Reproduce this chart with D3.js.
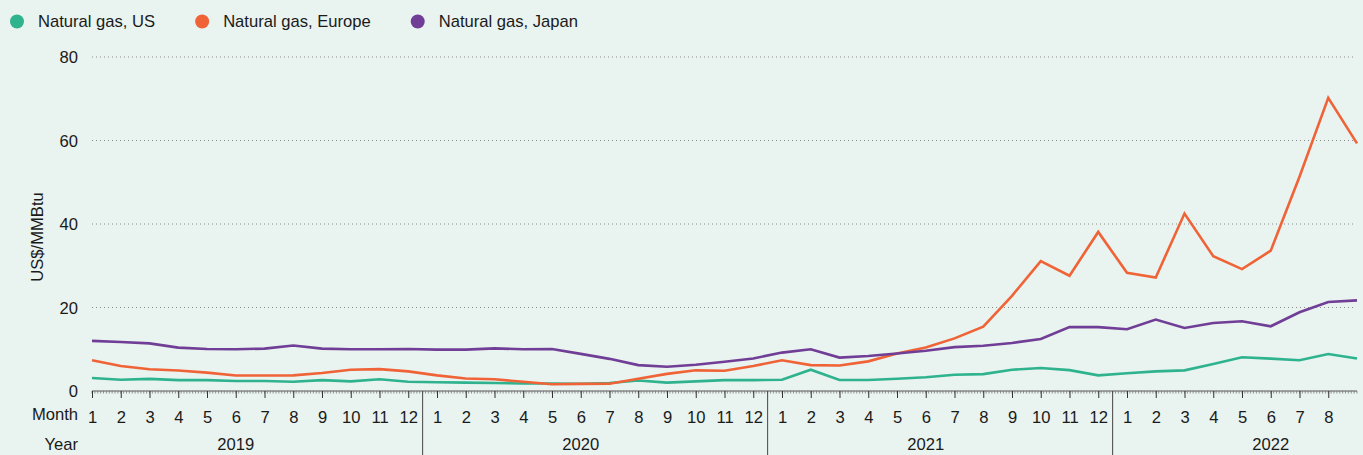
<!DOCTYPE html>
<html>
<head>
<meta charset="utf-8">
<script src="https://cdn.jsdelivr.net/npm/d3@7"></script>
<style>
  html, body { margin: 0; padding: 0; background: #e9f3ef; }
  svg { display: block; }
  text { font-family: "Liberation Sans", Arial, Helvetica, sans-serif; fill: #1a1a1a; }
</style>
</head>
<body>
<svg id="chart" width="1363" height="455"></svg>
<script>
// ---------- DATA ----------
const categories = [
  "2019-01","2019-02","2019-03","2019-04","2019-05","2019-06","2019-07","2019-08","2019-09","2019-10","2019-11","2019-12",
  "2020-01","2020-02","2020-03","2020-04","2020-05","2020-06","2020-07","2020-08","2020-09","2020-10","2020-11","2020-12",
  "2021-01","2021-02","2021-03","2021-04","2021-05","2021-06","2021-07","2021-08","2021-09","2021-10","2021-11","2021-12",
  "2022-01","2022-02","2022-03","2022-04","2022-05","2022-06","2022-07","2022-08","2022-09"
];
const seriesNames = ["Natural gas, US", "Natural gas, Europe", "Natural gas, Japan"];
const usValues = [3.1,2.7,2.9,2.6,2.6,2.4,2.4,2.2,2.6,2.3,2.8,2.2,
  2.1,2.0,1.9,1.8,1.8,1.75,1.9,2.5,2.0,2.3,2.6,2.6,
  2.7,5.1,2.65,2.65,2.95,3.3,3.9,4.05,5.1,5.5,5.0,3.75,
  4.25,4.7,4.95,6.45,8.1,7.75,7.35,8.85,7.8];
const europeValues = [7.35,6.0,5.2,4.9,4.4,3.7,3.7,3.75,4.3,5.1,5.25,4.7,
  3.75,3.0,2.8,2.2,1.6,1.7,1.75,2.95,4.1,4.95,4.85,6.0,
  7.35,6.2,6.1,7.1,9.0,10.4,12.6,15.4,22.8,31.1,27.6,38.1,
  28.3,27.2,42.5,32.3,29.2,33.6,51.3,70.2,59.3];
const japanValues = [12.0,11.75,11.4,10.4,10.05,10.0,10.15,10.9,10.15,10.0,10.0,10.05,
  9.9,9.9,10.2,10.0,10.05,8.9,7.7,6.2,5.8,6.3,7.0,7.8,
  9.2,10.0,8.0,8.4,9.0,9.65,10.5,10.85,11.5,12.45,15.3,15.3,
  14.8,17.1,15.1,16.3,16.7,15.5,18.85,21.3,21.7];
const yTicks = [0, 20, 40, 60, 80];
const years = ["2019", "2020", "2021", "2022"];
// month ticks that are labelled (last data month has no tick label)
const labelledMonths = categories.slice(0, 44);
const yAxisTitle = "US$/MMBtu";

// ---------- STYLE ----------
const colors = ["#2eb38e", "#ef6337", "#703e96"];
const FS = 16.6;
const W = 1363, H = 455;
const x0 = 92, x1 = 1357, yTop = 57, yBottom = 391;

const svg = d3.select("#chart");
svg.append("rect").attr("width", W).attr("height", H).attr("fill", "#e9f3ef");

const x = d3.scalePoint().domain(categories).range([x0, x1]);
const y = d3.scaleLinear().domain([0, 80]).range([yBottom, yTop]);

// gridlines
svg.append("g").selectAll("line").data(yTicks.filter(d => d > 0)).join("line")
  .attr("x1", x0).attr("x2", 1355)
  .attr("y1", d => y(d)).attr("y2", d => y(d))
  .attr("stroke", "#8a8a8a").attr("stroke-width", 1)
  .attr("stroke-dasharray", "1,3");

// y axis labels
const yAxis = d3.axisLeft(y).tickValues(yTicks).tickSize(0).tickPadding(0).tickFormat(d3.format("d"));
const gy = svg.append("g").attr("transform", `translate(78,0)`).call(yAxis);
gy.select(".domain").remove();
gy.selectAll("text").attr("font-size", FS).attr("font-family", '"Liberation Sans", Arial, sans-serif')
  .attr("fill", "#1a1a1a").attr("dy", "0.34em");

// y title
svg.append("text")
  .attr("transform", `translate(43,${237}) rotate(-90)`)
  .attr("text-anchor", "middle")
  .attr("font-size", FS)
  .text(yAxisTitle);

// x axis line
svg.append("line").attr("x1", x0).attr("x2", x1).attr("y1", yBottom).attr("y2", yBottom)
  .attr("stroke", "#555").attr("stroke-width", 1);

// minor ticks (10 per month)
const step = x.step();
const minor = d3.range(0, Math.floor((x1 - x0) / (step / 10)) + 1).map(i => x0 + i * step / 10);
svg.append("g").selectAll("line").data(minor).join("line")
  .attr("x1", d => d).attr("x2", d => d)
  .attr("y1", yBottom).attr("y2", yBottom + 2.5)
  .attr("stroke", "#777").attr("stroke-width", 0.8);

// major month ticks + labels via d3 axis
const xAxis = d3.axisBottom(x).tickValues(labelledMonths).tickSize(7).tickPadding(13)
  .tickFormat(d => String(+d.slice(5)));
const gx = svg.append("g").attr("transform", `translate(0,${yBottom})`).call(xAxis);
gx.select(".domain").remove();
gx.selectAll(".tick line").attr("stroke", "#333").attr("stroke-width", 1);
gx.selectAll("text").attr("font-size", FS).attr("font-family", '"Liberation Sans", Arial, sans-serif').attr("fill", "#1a1a1a");

svg.append("text").attr("x", 78).attr("y", 420).attr("text-anchor", "end").attr("font-size", FS).text("Month");
svg.append("text").attr("x", 78).attr("y", 450).attr("text-anchor", "end").attr("font-size", FS).text("Year");

// year dividers & labels
years.forEach((yr, i) => {
  const jan = x(`${yr}-01`);
  if (i > 0) {
    const dec = x(`${years[i-1]}-12`);
    const xm = (jan + dec) / 2;
    svg.append("line").attr("x1", xm).attr("x2", xm).attr("y1", yBottom).attr("y2", H)
      .attr("stroke", "#444").attr("stroke-width", 1);
  }
  svg.append("text").attr("x", x(`${yr}-06`)).attr("y", 450).attr("text-anchor", "middle")
    .attr("font-size", FS).text(yr);
});

// lines
const allSeries = [usValues, europeValues, japanValues];
const line = d3.line().x((d, i) => x(categories[i])).y(d => y(d));
allSeries.forEach((vals, k) => {
  svg.append("path").datum(vals).attr("d", line)
    .attr("fill", "none").attr("stroke", colors[k]).attr("stroke-width", 2.6)
    .attr("stroke-linejoin", "miter");
});

// legend
let lx = 17;
seriesNames.forEach((name, k) => {
  svg.append("circle").attr("cx", lx).attr("cy", 21.5).attr("r", 7).attr("fill", colors[k]);
  const t = svg.append("text").attr("x", lx + 21).attr("y", 27).attr("font-size", FS).text(name);
  lx = lx + 21 + t.node().getComputedTextLength() + 47;
});
</script>
</body>
</html>
